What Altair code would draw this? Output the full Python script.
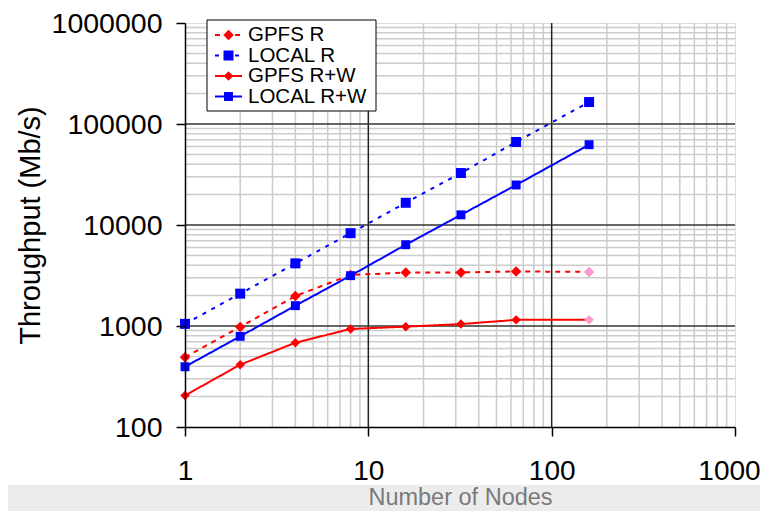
import math
import altair as alt
import pandas as pd

# ---------------- data ----------------
nodes = [1, 2, 4, 8, 16, 32, 64, 160]
gpfs_r = [490, 980, 1980, 3200, 3380, 3390, 3470, 3430]
local_r = [1050, 2090, 4170, 8300, 16600, 32700, 66400, 165000]
gpfs_rw = [205, 414, 683, 935, 985, 1045, 1150, 1150]
local_rw = [395, 790, 1590, 3150, 6380, 12600, 24900, 62400]
series_names = ["GPFS R", "LOCAL R", "GPFS R+W", "LOCAL R+W"]
x_ticks = [1, 10, 100, 1000]
y_ticks = [100, 1000, 10000, 100000, 1000000]

W, H = 550, 404
FONT = "Liberation Sans"

rows = []
for name, vals in zip(series_names, [gpfs_r, local_r, gpfs_rw, local_rw]):
    for i, (n, v) in enumerate(zip(nodes, vals)):
        pt = name
        if name.startswith("GPFS") and i == len(nodes) - 1:
            pt = "pink"
        rows.append({"series": name, "nodes": n, "value": v, "pt": pt})
df = pd.DataFrame(rows)

# minor / major grid values
x_minor = [m * d for d in [1, 10, 100] for m in range(2, 10)]
y_minor = [m * d for d in [100, 1000, 10000, 100000] for m in range(2, 10)]
x_major = [10, 100]
y_major = [1000, 10000, 100000]

xs = alt.Scale(type="log", domain=[1, 1000], nice=False)
ys = alt.Scale(type="log", domain=[100, 1000000], nice=False)

x_axis = alt.Axis(values=x_ticks, format="d", grid=False, tickSize=9, tickColor="black",
                  domainColor="black", tickWidth=1.5, domainWidth=1.5,
                  labelFont=FONT, labelFontSize=28, labelColor="black", labelPadding=21,
                  labelFlush=False, labelOverlap=False,
                  labelOffset=alt.ConditionalAxisNumber(
                      condition={"test": "datum.value == 1000", "value": -6}, value=0),
                  title="Number of Nodes", titleFont=FONT, titleFontSize=23.5,
                  titleFontWeight="normal", titleColor="#7a7a7a", titlePadding=0, zindex=1)
y_axis = alt.Axis(values=y_ticks, format="d", grid=False, tickSize=9, tickColor="black",
                  domainColor="black", tickWidth=1.5, domainWidth=1.5,
                  labelFont=FONT, labelFontSize=28.5, labelColor="black", labelPadding=14,
                  labelFlush=False, labelOverlap=False,
                  title="Throughput (Mb/s)", titleFont=FONT, titleFontSize=29,
                  titleFontWeight="normal", titleColor="black", titlePadding=6, zindex=1)

X = alt.X("nodes:Q", scale=xs, axis=x_axis)
Y = alt.Y("value:Q", scale=ys, axis=y_axis)

color_scale = alt.Scale(domain=series_names + ["pink"],
                        range=["#ff0000", "#0000ff", "#ff0000", "#0000ff", "#ff99cc"])
dash_scale = alt.Scale(domain=series_names, range=[[5, 5], [4, 6], [1, 0], [1, 0]])
shape_scale = alt.Scale(domain=series_names, range=["diamond", "square", "diamond", "square"])
size_scale = alt.Scale(domain=series_names, range=[110, 80, 110, 80])

# background band behind x title
band = alt.Chart(pd.DataFrame({"a": [0]})).mark_rect(fill="#ececec").encode(
    x=alt.value(-180), x2=alt.value(600), y=alt.value(462), y2=alt.value(520))

vgrid_minor = alt.Chart(pd.DataFrame({"nodes": x_minor})).mark_rule(
    color="#cccccc", strokeWidth=1.5).encode(x=alt.X("nodes:Q", scale=xs, axis=x_axis),
                                             y=alt.value(0), y2=alt.value(H))
hgrid_minor = alt.Chart(pd.DataFrame({"value": y_minor})).mark_rule(
    color="#cccccc", strokeWidth=1.5).encode(y=alt.Y("value:Q", scale=ys, axis=y_axis),
                                             x=alt.value(0), x2=alt.value(W))
vgrid_major = alt.Chart(pd.DataFrame({"nodes": x_major})).mark_rule(
    color="#222222", strokeWidth=1.5).encode(x=alt.X("nodes:Q", scale=xs, axis=x_axis),
                                             y=alt.value(0), y2=alt.value(H))
hgrid_major = alt.Chart(pd.DataFrame({"value": y_major})).mark_rule(
    color="#333333", strokeWidth=1.5).encode(y=alt.Y("value:Q", scale=ys, axis=y_axis),
                                             x=alt.value(0), x2=alt.value(W))

lines = alt.Chart(df).mark_line(strokeWidth=2).encode(
    x=X, y=Y,
    color=alt.Color("series:N", scale=color_scale, legend=None),
    strokeDash=alt.StrokeDash("series:N", scale=dash_scale, legend=None),
    detail="series:N",
)
points = alt.Chart(df).mark_point(filled=True, opacity=1).encode(
    x=X, y=Y,
    color=alt.Color("pt:N", scale=color_scale, legend=None),
    shape=alt.Shape("series:N", scale=shape_scale, legend=None),
    size=alt.Size("series:N", scale=size_scale, legend=None),
)

# ---------------- manual legend ----------------
px_per_dec_x = W / 3.0
px_per_dec_y = H / 4.0


def px2x(px):
    return 10 ** (px / px_per_dec_x)


def py2y(py):
    return 10 ** (6 - py / px_per_dec_y)


leg_rows = [12, 32.5, 53, 73.5]
leg = pd.DataFrame({
    "series": series_names,
    "pt": series_names,
    "x1": [px2x(30)] * 4,
    "x2": [px2x(57)] * 4,
    "xm": [px2x(43.5)] * 4,
    "xt": [px2x(63)] * 4,
    "y": [py2y(r) for r in leg_rows],
})
leg_box = alt.Chart(pd.DataFrame({"a": [0]})).mark_rect(
    fill="white", stroke="black", strokeWidth=1).encode(
    x=alt.value(22), x2=alt.value(191), y=alt.value(-3), y2=alt.value(88))
leg_lines = alt.Chart(leg).mark_rule(strokeWidth=2).encode(
    x=alt.X("x1:Q", scale=xs, axis=x_axis), x2="x2:Q",
    y=alt.Y("y:Q", scale=ys, axis=y_axis),
    color=alt.Color("series:N", scale=color_scale, legend=None),
    strokeDash=alt.StrokeDash("series:N", scale=dash_scale, legend=None),
)
leg_pts = alt.Chart(leg).mark_point(filled=True, opacity=1).encode(
    x=alt.X("xm:Q", scale=xs, axis=x_axis),
    y=alt.Y("y:Q", scale=ys, axis=y_axis),
    color=alt.Color("pt:N", scale=color_scale, legend=None),
    shape=alt.Shape("series:N", scale=shape_scale, legend=None),
    size=alt.Size("series:N", scale=size_scale, legend=None),
)
leg_text = alt.Chart(leg).mark_text(align="left", baseline="middle", font=FONT,
                                    fontSize=20.5, color="black").encode(
    x=alt.X("xt:Q", scale=xs, axis=x_axis),
    y=alt.Y("y:Q", scale=ys, axis=y_axis),
    text="series:N",
)

chart = alt.layer(
    band, vgrid_minor, hgrid_minor, vgrid_major, hgrid_major, lines, points,
    leg_box, leg_lines, leg_pts, leg_text,
).properties(
    width=W, height=H,
    autosize=alt.AutoSizeParams(type="none"),
    padding={"left": 177, "top": 15, "right": 25, "bottom": 84},
).configure_view(stroke="#444444", strokeWidth=1.5
).configure(background="white")

chart.save("out.html", embed_options={"renderer": "svg", "actions": False})
